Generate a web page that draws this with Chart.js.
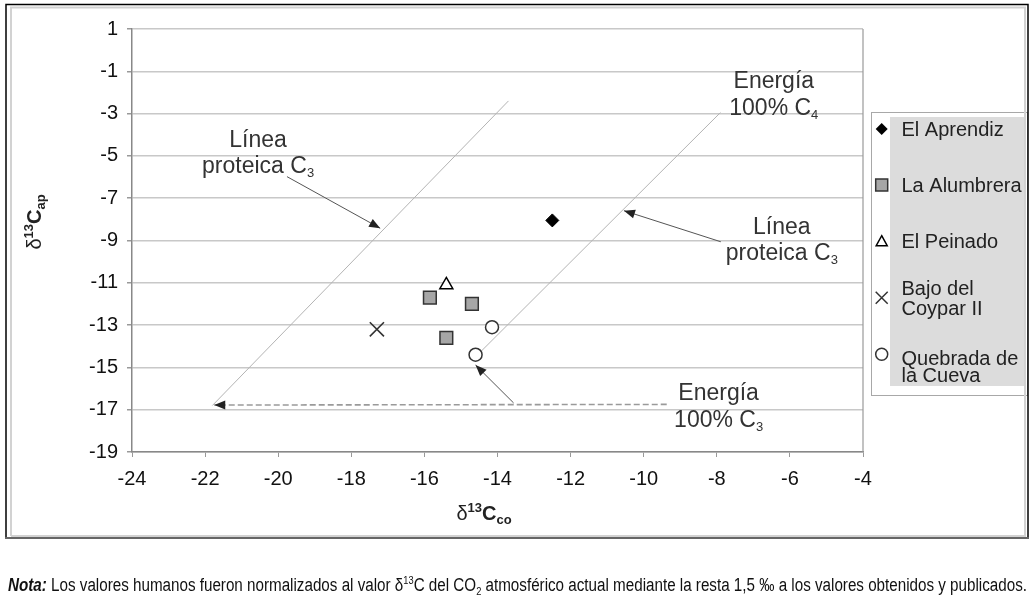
<!DOCTYPE html>
<html><head><meta charset="utf-8">
<script src="https://cdn.jsdelivr.net/npm/chart.js@4/dist/chart.umd.min.js"></script>
<style>html,body{margin:0;padding:0;background:#fff;}canvas{display:block}</style>
</head><body>
<canvas id="c" width="1034" height="606"></canvas>
<script>
// ---- data ----
const xTicks = [-24,-22,-20,-18,-16,-14,-12,-10,-8,-6,-4];
const yTicks = [1,-1,-3,-5,-7,-9,-11,-13,-15,-17,-19];
const seriesNames = ['El Aprendiz','La Alumbrera','El Peinado','Bajo del Coypar II','Quebrada de la Cueva'];
const aprendizX = [-12.5],               aprendizY = [-8.05];
const alumbreraX = [-15.85,-14.7,-15.4], alumbreraY = [-11.7,-12.0,-13.6];
const peinadoX = [-15.4],                peinadoY = [-11.1];
const coyparX = [-17.3],                 coyparY = [-13.2];
const quebradaX = [-14.15,-14.6],        quebradaY = [-13.1,-14.4];
// reference lines
const proteinLineAX = [-21.8,-13.7], proteinLineAY = [-16.8,-2.4];
const proteinLineBX = [-14.6,-7.9],  proteinLineBY = [-14.5,-2.95];
// annotation arrows (data units)
const arrowFromX = [-9.37,-13.56,-19.76,-7.89];
const arrowFromY = [-16.75,-16.68,-5.98,-9.06];
const arrowToX   = [-21.75,-14.6,-17.21,-10.54];
const arrowToY   = [-16.78,-14.89,-8.42,-7.59];
const arrowDashed = [true,false,false,false];
// annotation texts (center x, baseline y in data units)
const noteTexts = ['Línea','proteica C|3','Energía','100% C|4','Línea','proteica C|3','Energía','100% C|3'];
const noteX = [-20.55,-20.55,-6.44,-6.44,-6.22,-6.22,-7.95,-7.95];
const noteY = [-4.59,-5.82,-1.80,-3.07,-8.69,-9.92,-16.54,-17.80];
const footnote = ['Nota:',' Los valores humanos fueron normalizados al valor δ','13','C del CO','2',' atmosférico actual mediante la resta 1,5 ‰ a los valores obtenidos y publicados.'];

const FONT = '"Liberation Sans", Arial, sans-serif';
function pts(xs, ys){ return xs.map((x,i)=>({x:x, y:ys[i]})); }

function drawRich(ctx, segs, cx, by, align){
  let w = 0;
  segs.forEach(s=>{ ctx.font = s.font; w += ctx.measureText(s.t).width; });
  let x = align === 'left' ? cx : cx - w/2;
  ctx.textBaseline = 'alphabetic'; ctx.textAlign = 'left';
  segs.forEach(s=>{ ctx.font = s.font; ctx.fillText(s.t, x, by + (s.dy||0)); x += ctx.measureText(s.t).width; });
  return w;
}
function arrowHead(ctx,x1,y1,x2,y2,len,w){
  const a = Math.atan2(y2-y1,x2-x1);
  ctx.beginPath();
  ctx.moveTo(x2,y2);
  ctx.lineTo(x2-len*Math.cos(a)+w*Math.sin(a), y2-len*Math.sin(a)-w*Math.cos(a));
  ctx.lineTo(x2-len*Math.cos(a)-w*Math.sin(a), y2-len*Math.sin(a)+w*Math.cos(a));
  ctx.closePath(); ctx.fill();
}
function drawMarker(ctx, style, x, y){
  ctx.save(); ctx.lineWidth = 1.5;
  ctx.beginPath();
  if (style==='diamond'){ ctx.fillStyle='#000'; ctx.moveTo(x,y-6); ctx.lineTo(x+6,y); ctx.lineTo(x,y+6); ctx.lineTo(x-6,y); ctx.closePath(); ctx.fill(); }
  else if (style==='square'){ ctx.fillStyle='#a6a6a6'; ctx.strokeStyle='#333'; ctx.rect(x-6,y-6,12,12); ctx.fill(); ctx.stroke(); }
  else if (style==='triangle'){ ctx.fillStyle='#fff'; ctx.strokeStyle='#000'; ctx.moveTo(x,y-6); ctx.lineTo(x+5.5,y+4); ctx.lineTo(x-5.5,y+4); ctx.closePath(); ctx.fill(); ctx.stroke(); }
  else if (style==='cross'){ ctx.strokeStyle='#333'; ctx.moveTo(x-6,y-6); ctx.lineTo(x+6,y+6); ctx.moveTo(x+6,y-6); ctx.lineTo(x-6,y+6); ctx.stroke(); }
  else { ctx.fillStyle='#fff'; ctx.strokeStyle='#333'; ctx.arc(x,y,6,0,Math.PI*2); ctx.fill(); ctx.stroke(); }
  ctx.restore();
}

const decorPlugin = {
  id: 'decor',
  beforeDraw(chart){
    const c = chart.ctx; c.save(); c.fillStyle = '#fff'; c.fillRect(0,0,chart.width,chart.height); c.restore();
  },
  afterDatasetsDraw(chart){
    const c = chart.ctx, xs = chart.scales.x, ys = chart.scales.y, a = chart.chartArea;
    c.save();
    // right border of plot area
    c.strokeStyle = '#999'; c.lineWidth = 1.2;
    c.beginPath(); c.moveTo(a.right, a.top); c.lineTo(a.right, a.bottom); c.stroke();
    // arrows
    for (let i=0;i<arrowFromX.length;i++){
      const x1 = xs.getPixelForValue(arrowFromX[i]), y1 = ys.getPixelForValue(arrowFromY[i]);
      const x2 = xs.getPixelForValue(arrowToX[i]),   y2 = ys.getPixelForValue(arrowToY[i]);
      c.save();
      if (arrowDashed[i]){ c.setLineDash([6,3]); c.strokeStyle='#9a9a9a'; c.lineWidth=1.6; }
      else { c.strokeStyle='#555'; c.lineWidth=1; }
      c.beginPath(); c.moveTo(x1,y1); c.lineTo(x2,y2); c.stroke();
      c.restore();
      c.fillStyle = '#222';
      arrowHead(c,x1,y1,x2,y2,11,4.5);
    }
    // texts
    c.fillStyle = '#333';
    for (let i=0;i<noteTexts.length;i++){
      const parts = noteTexts[i].split('|');
      const segs = [{t:parts[0], font:'23px '+FONT}];
      if (parts[1]) segs.push({t:parts[1], font:'13px '+FONT, dy:4});
      drawRich(c, segs, xs.getPixelForValue(noteX[i]), ys.getPixelForValue(noteY[i]));
    }
    c.restore();
  },
  afterDraw(chart){
    const c = chart.ctx;
    c.save();
    // axis titles
    c.fillStyle = '#222';
    drawRich(c, [{t:'δ',font:'20px '+FONT},{t:'13',font:'bold 13px '+FONT,dy:-8},{t:'C',font:'bold 20px '+FONT},{t:'co',font:'bold 13px '+FONT,dy:4}], 484, 520);
    c.save(); c.translate(41, 222); c.rotate(-Math.PI/2);
    drawRich(c, [{t:'δ',font:'20px '+FONT},{t:'13',font:'bold 13px '+FONT,dy:-8},{t:'C',font:'bold 20px '+FONT},{t:'ap',font:'bold 13px '+FONT,dy:4}], 0, 0);
    c.restore();
    // legend
    c.fillStyle = '#dcdcdc'; c.fillRect(890,117,136,269);
    c.strokeStyle = '#a8a8a8'; c.lineWidth = 1; c.strokeRect(871.5,112.5,156,283);
    const styles = ['diamond','square','triangle','cross','circle'];
    const markerY = [129,185,241.7,297.7,354.3];
    const textLines = [['El Aprendiz'],['La Alumbrera'],['El Peinado'],['Bajo del','Coypar II'],['Quebrada de','la Cueva']];
    const textY = [[129],[185],[241.7],[288,308.5],[358,375.5]];
    c.font = '20px '+FONT; c.fillStyle = '#222'; c.textBaseline = 'middle'; c.textAlign='left';
    for (let i=0;i<seriesNames.length;i++){
      drawMarker(c, styles[i], 881.7, markerY[i]);
      textLines[i].forEach((t,j)=>{ c.fillText(t, 901.5, textY[i][j]+1); });
    }
    // frame
    c.strokeStyle = '#d2d2d2'; c.lineWidth = 2;
    c.beginPath(); c.moveTo(11,536); c.lineTo(11,7.5); c.lineTo(1025,7.5); c.lineTo(1025,536); c.lineTo(11,536); c.stroke();
    c.strokeStyle = '#000'; c.lineWidth = 1.5;
    c.beginPath(); c.moveTo(6,538); c.lineTo(6,4.5); c.lineTo(1028,4.5); c.lineTo(1028,538); c.stroke();
    c.strokeStyle = '#666'; c.lineWidth = 2;
    c.beginPath(); c.moveTo(5,538); c.lineTo(1029,538); c.stroke();
    // footnote
    const fam = '"Liberation Sans Narrow", "Liberation Sans", Arial, sans-serif';
    const segs = [
      {t:footnote[0], font:'italic bold 18px '+fam},
      {t:footnote[1], font:'18px '+fam},
      {t:footnote[2], font:'11px '+fam, dy:-7},
      {t:footnote[3], font:'18px '+fam},
      {t:footnote[4], font:'11px '+fam, dy:4},
      {t:footnote[5], font:'18px '+fam}
    ];
    let w = 0; segs.forEach(s=>{ c.font=s.font; w += c.measureText(s.t).width; });
    const sx = (1027-8)/w;
    c.translate(8, 0); c.scale(sx, 1);
    c.fillStyle = '#111';
    drawRich(c, segs, 0, 591, 'left');
    c.restore();
  }
};

new Chart(document.getElementById('c'), {
  type: 'scatter',
  data: { datasets: [
    {label: seriesNames[0], data: pts(aprendizX, aprendizY), pointStyle:'rectRot', pointRadius:6.5, backgroundColor:'#000', borderColor:'#000', borderWidth:1},
    {label: seriesNames[1], data: pts(alumbreraX, alumbreraY), pointStyle:'rect', pointRadius:9, backgroundColor:'#a6a6a6', borderColor:'#333', borderWidth:1.5},
    {label: seriesNames[2], data: pts(peinadoX, peinadoY), pointStyle:'triangle', pointRadius:7.5, backgroundColor:'#fff', borderColor:'#000', borderWidth:1.5},
    {label: seriesNames[3], data: pts(coyparX, coyparY), pointStyle:'crossRot', pointRadius:10, backgroundColor:'#333', borderColor:'#333', borderWidth:1.6},
    {label: seriesNames[4], data: pts(quebradaX, quebradaY), pointStyle:'circle', pointRadius:6.5, backgroundColor:'#fff', borderColor:'#333', borderWidth:1.5},
    {type:'line', label:'proteinA', data: pts(proteinLineAX, proteinLineAY), borderColor:'#b4b4b4', borderWidth:1, pointRadius:0, fill:false, order:10},
    {type:'line', label:'proteinB', data: pts(proteinLineBX, proteinLineBY), borderColor:'#b4b4b4', borderWidth:1, pointRadius:0, fill:false, order:10}
  ]},
  options: {
    responsive:false, animation:false, devicePixelRatio:1,
    layout:{padding:{left:0, top:29, right:171, bottom:94}},
    plugins:{legend:{display:false}, tooltip:{enabled:false}},
    scales:{
      x:{type:'linear', min:-24, max:-4,
        afterBuildTicks: s=>{ s.ticks = xTicks.map(v=>({value:v})); },
        afterFit: s=>{ s.height = 60; },
        ticks:{font:{family:FONT,size:20}, color:'#111', padding:10, maxRotation:0, autoSkip:false},
        grid:{drawOnChartArea:false, drawTicks:true, tickLength:5, tickColor:'#999', color:'#999'},
        border:{color:'#888', width:1.5}
      },
      y:{type:'linear', min:-19, max:1,
        afterBuildTicks: s=>{ s.ticks = yTicks.map(v=>({value:v})); },
        afterFit: s=>{ s.width = 132; },
        ticks:{font:{family:FONT,size:20}, color:'#111', padding:9, autoSkip:false},
        grid:{color:'#c8c8c8', lineWidth:1.5, drawTicks:true, tickLength:5, tickColor:'#999'},
        border:{color:'#888', width:1.5}
      }
    }
  },
  plugins:[decorPlugin]
});
</script>
</body></html>
